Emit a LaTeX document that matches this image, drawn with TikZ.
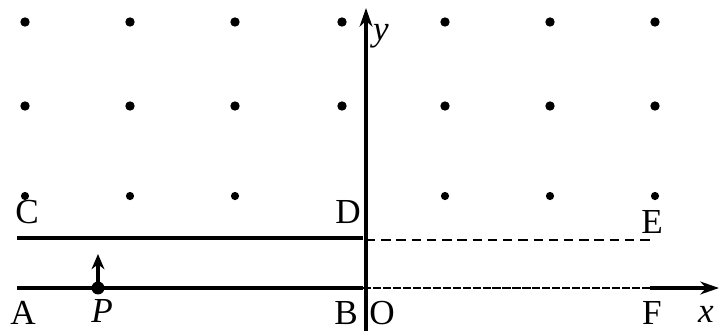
\documentclass[tikz,border=0pt]{standalone}
\usepackage{fontspec}
\setmainfont{Liberation Serif}
\usetikzlibrary{arrows.meta}

\begin{document}
\begin{tikzpicture}[x=0.03cm, y=-0.03cm, line width=2.6pt,
		lbl/.style={font=\fontsize{30}{36}\selectfont, inner sep=0pt},
		dot/.style={circle, fill, inner sep=0pt, minimum size=8pt}]
		\useasboundingbox (0, 0) rectangle (720, 331);
		% the grid of field dots
		\foreach \x in {25, 130, 235, 342, 445, 550, 655} {
			\node [dot] at (\x, 22) {};
			\node [dot] at (\x, 106) {};
		}
		\foreach \x in {25, 130, 235, 445, 550, 655}
			\node [dot, minimum size=7pt] at (\x, 196) {};
		% corner points
		\coordinate (A) at (17, 288);
		\coordinate (B) at (363, 288);
		\coordinate (C) at (17, 238);
		\coordinate (D) at (363, 238);
		\coordinate (E) at (650, 240);
		\coordinate (F) at (650, 288);
		\coordinate (xend) at (719, 288);
		\coordinate (ybot) at (366, 331);
		\coordinate (ytop) at (366, 8);
		% axes
		\draw [-{Stealth[length=16pt, width=11pt]}] (ybot) -- (ytop);
		\draw (A) -- (B);
		\draw [line width=2.2pt, dash pattern=on 7pt off 1.5pt] (B) -- (F);
		\draw [-{Stealth[length=16pt, width=11pt]}] (F) -- (xend);
		% strip boundary
		\draw (C) -- (D);
		\draw [line width=1.6pt, dash pattern=on 8pt off 5pt] (366, 240) -- (E);
		% the particle P and its velocity
		\node [dot, minimum size=11pt] (P) at (98, 288) {};
		\coordinate (vtip) at (98, 254);
		\draw [-{Stealth[length=13pt, width=11pt]}] (P.center) -- (vtip);
		% labels
		\node [lbl] at (23, 313) {A};
		\node [lbl] at (102, 311) {\textit{P}};
		\node [lbl] at (346, 313) {B};
		\node [lbl] at (382, 313) {O};
		\node [lbl] at (652, 313) {F};
		\node [lbl] at (706, 314) {\textit{x}};
		\node [lbl] at (381, 36) {\textit{y}};
		\node [lbl] at (27, 212) {C};
		\node [lbl] at (348, 212) {D};
		\node [lbl] at (652, 222) {E};
	\end{tikzpicture}
\end{document}
